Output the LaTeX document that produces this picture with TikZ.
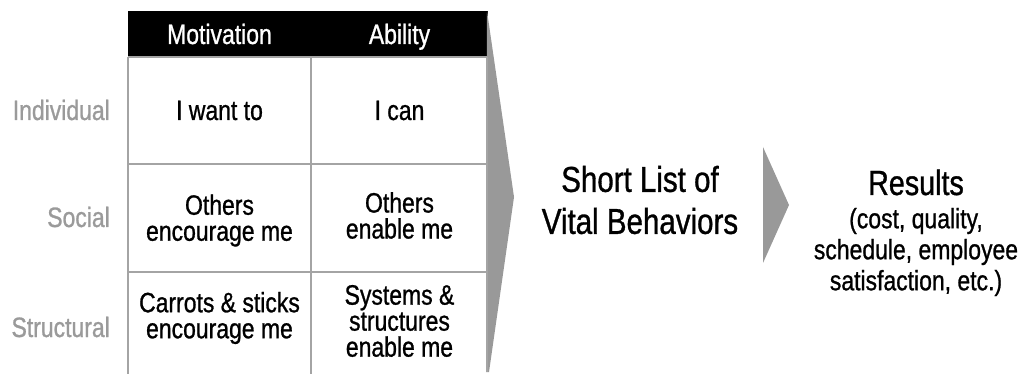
\documentclass[tikz,border=0pt]{standalone}
\usepackage{fontspec}
\setmainfont{Liberation Sans}[FakeStretch=0.82,FakeBold=0.9]
\definecolor{gridgray}{HTML}{A4A4A4}
\definecolor{wedgegray}{HTML}{999999}
\definecolor{labelgray}{HTML}{9A9A9A}
\begin{document}
\begin{tikzpicture}[x=1pt,y=-1pt,
  gridline/.style={draw=gridgray,line width=2pt},
  wedge/.style={fill=wedgegray,draw=none},
  headtxt/.style={text=white,font=\fontsize{28}{28}\selectfont,inner sep=0pt,anchor=base},
  celltxt/.style={text=black,font=\fontsize{28}{26}\selectfont,inner sep=0pt,align=center},
  rowlbl/.style={text=labelgray,font=\fontsize{28}{28}\selectfont,inner sep=0pt,anchor=base east},
  bigtxt/.style={text=black,font=\fontsize{36}{42}\selectfont,inner sep=0pt,align=center},
  restxt/.style={text=black,font=\fontsize{35}{35}\selectfont,inner sep=0pt,anchor=base},
  subtxt/.style={text=black,font=\fontsize{28}{31}\selectfont,inner sep=0pt,align=center}]
\useasboundingbox (0,0) rectangle (1026,374);
% header
\fill[black] (128,11) rectangle (488,57);
% big wedge
\coordinate (wt) at (487,11);
\coordinate (wtip) at (514,197);
\coordinate (wb) at (489,372);
\coordinate (wbl) at (486,372);
\fill[wedge] (wt) -- (wtip) -- (wb) -- (wbl) -- cycle;
% grid
\draw[gridline] (128,57) -- (487,57);
\draw[gridline] (128,164) -- (487,164);
\draw[gridline] (128,272) -- (487,272);
\draw[gridline] (128,57) -- (128,374);
\draw[gridline] (311,57) -- (311,374);
\draw[gridline] (487,57) -- (487,372);
% header texts
\node[headtxt] (hmot) at (219.5,44) {Motivation};
\node[headtxt] (habl) at (399.5,44) {Ability};
% row labels
\node[rowlbl] (lind) at (110,120) {Individual};
\node[rowlbl] (lsoc) at (110,227) {Social};
\node[rowlbl] (lstr) at (110,337) {Structural};
% cells
\node[celltxt,anchor=base] (c11) at (219.5,120) {I want to};
\node[celltxt,anchor=base] (c12) at (399.5,120) {I can};
\node[celltxt] (c21) at (219.5,220.5) {Others\\encourage me};
\node[celltxt] (c22) at (399.5,215.5) {Others\\enable me};
\node[celltxt] (c31) at (219.5,318) {Carrots \& sticks\\encourage me};
\node[celltxt] (c32) at (399.5,321) {Systems \&\\structures\\enable me};
% middle
\node[bigtxt] (vital) at (640,200) {Short List of\\Vital Behaviors};
% small arrow
\coordinate (at) at (763,147);
\coordinate (atip) at (789,205);
\coordinate (ab) at (763,263);
\fill[wedge] (at) -- (atip) -- (ab) -- cycle;
% results
\node[restxt] (res) at (916,195) {Results};
\node[subtxt] (resd) at (916,252) {(cost, quality,\\schedule, employee\\satisfaction, etc.)};
\end{tikzpicture}
\end{document}
